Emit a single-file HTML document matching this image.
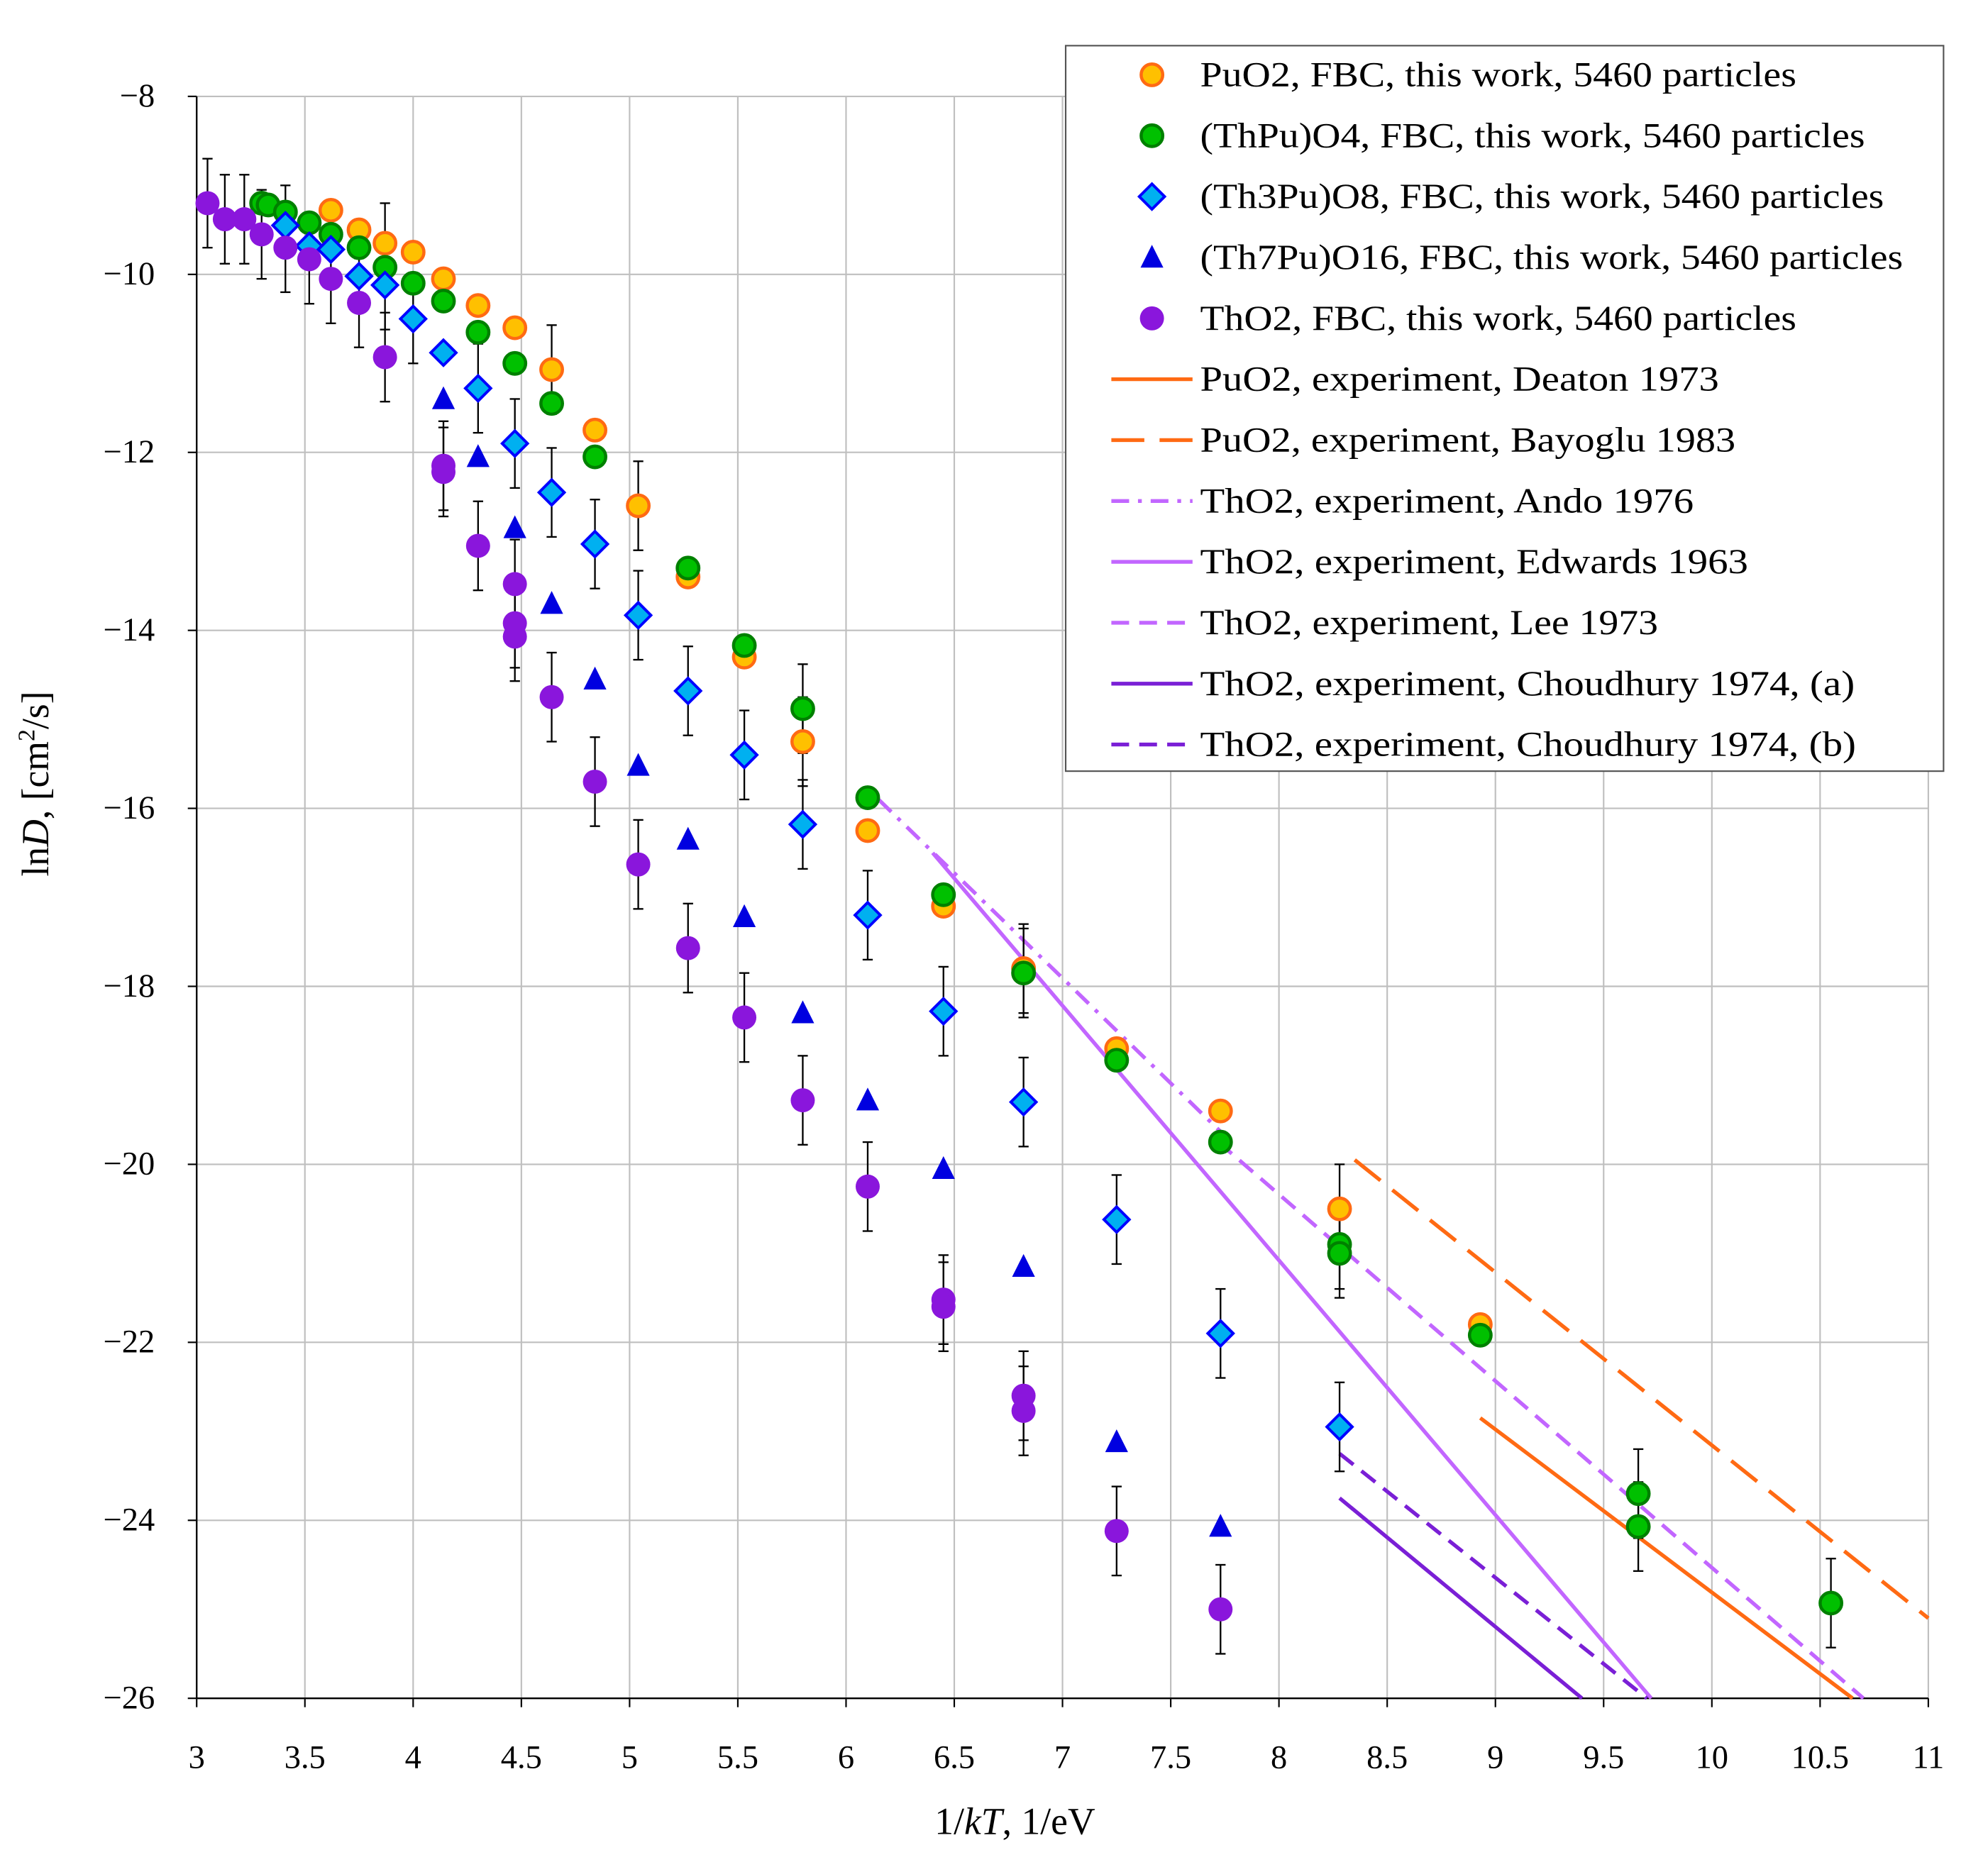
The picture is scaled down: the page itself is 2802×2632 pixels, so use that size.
<!DOCTYPE html>
<html><head><meta charset="utf-8"><style>
html,body{margin:0;padding:0;background:#fff;}
svg{display:block;font-family:"Liberation Serif",serif;}
</style></head><body>
<svg id="chart" width="2802" height="2632" viewBox="0 0 1567 1472" xmlns="http://www.w3.org/2000/svg"></svg>
<script>
const xTicks=[3,3.5,4,4.5,5,5.5,6,6.5,7,7.5,8,8.5,9,9.5,10,10.5,11];
const xTickLabels=["3","3.5","4","4.5","5","5.5","6","6.5","7","7.5","8","8.5","9","9.5","10","10.5","11"];
const yTicks=[-8,-10,-12,-14,-16,-18,-20,-22,-24,-26];
const yTickLabels=["\u22128","\u221210","\u221212","\u221214","\u221216","\u221218","\u221220","\u221222","\u221224","\u221226"];

const puX=[3.62,3.75,3.87,4.0,4.14,4.3,4.47,4.64,4.84,5.04,5.27,5.53,5.8,6.1,6.45,6.82,7.25,7.73,8.28,8.93];
const puY=[-9.28,-9.5,-9.65,-9.75,-10.05,-10.35,-10.6,-11.07,-11.75,-12.6,-13.4,-14.3,-15.25,-16.25,-17.1,-17.8,-18.7,-19.4,-20.5,-21.8];
const puE=[0,0,0.45,0,0,0,0,0.5,0,0.5,0,0,0.5,0,0,0.5,0,0,0.5,0];

const thpuX=[3.3,3.33,3.41,3.52,3.62,3.75,3.87,4.0,4.14,4.3,4.47,4.64,4.84,5.27,5.53,5.8,6.1,6.45,6.82,7.25,7.73,8.28,8.28,8.93,9.66,9.66,10.55];
const thpuY=[-9.2,-9.22,-9.3,-9.42,-9.55,-9.7,-9.92,-10.1,-10.3,-10.65,-11.0,-11.45,-12.05,-13.3,-14.17,-14.88,-15.88,-16.97,-17.85,-18.83,-19.75,-20.9,-21.0,-21.92,-23.7,-24.07,-24.93];
const thpuE=[0,0,0.3,0,0,0,0,0,0,0,0,0,0,0,0,0.5,0,0,0.5,0,0,0.5,0.5,0,0.5,0.5,0.5];

const th3X=[3.41,3.52,3.62,3.75,3.87,4.0,4.14,4.3,4.47,4.64,4.84,5.04,5.27,5.53,5.8,6.1,6.45,6.82,7.25,7.73,8.28];
const th3Y=[-9.45,-9.68,-9.72,-10.02,-10.12,-10.5,-10.88,-11.28,-11.9,-12.45,-13.03,-13.83,-14.68,-15.4,-16.18,-17.2,-18.28,-19.3,-20.62,-21.9,-22.95];
const th3E=[0,0,0,0,0.5,0.5,0,0.5,0.5,0.5,0.5,0.5,0.5,0.5,0.5,0.5,0.5,0.5,0.5,0.5,0.5];

const th7X=[4.14,4.3,4.47,4.64,4.84,5.04,5.27,5.53,5.8,6.1,6.45,6.82,7.25,7.73];
const th7Y=[-11.4,-12.05,-12.85,-13.7,-14.55,-15.52,-16.35,-17.22,-18.3,-19.28,-20.05,-21.15,-23.12,-24.07];

const thX=[3.05,3.13,3.22,3.3,3.41,3.52,3.62,3.75,3.87,4.14,4.14,4.3,4.47,4.47,4.47,4.64,4.84,5.04,5.27,5.53,5.8,6.1,6.45,6.45,6.82,6.82,7.25,7.73];
const thY=[-9.2,-9.38,-9.38,-9.55,-9.7,-9.83,-10.05,-10.32,-10.93,-12.15,-12.22,-13.05,-13.48,-13.92,-14.07,-14.75,-15.7,-16.63,-17.57,-18.35,-19.28,-20.25,-21.52,-21.6,-22.6,-22.77,-24.12,-25.0];
const thE=[0.5,0.5,0.5,0.5,0.5,0.5,0.5,0.5,0.5,0.5,0.5,0.5,0.5,0.5,0.5,0.5,0.5,0.5,0.5,0.5,0.5,0.5,0.5,0.5,0.5,0.5,0.5,0.5];

const deatonX=[8.93,10.65], deatonY=[-22.85,-26];
const bayogluX=[8.35,11], bayogluY=[-19.95,-25.1];
const andoX=[6.15,7.78], andoY=[-15.9,-19.75];
const edwardsX=[6.4,9.72], edwardsY=[-16.5,-26];
const leeX=[7.72,10.7], leeY=[-19.75,-26];
const choudAX=[8.28,9.4], choudAY=[-23.75,-26];
const choudBX=[8.28,9.7], choudBY=[-23.25,-26];

const X0=155,X1=1520,Y0=76,Y1=1339;
const sx=v=>X0+(v-3)/(11-3)*(X1-X0);
const sy=v=>Y0+(v-(-8))/(-26-(-8))*(Y1-Y0);
const NS="http://www.w3.org/2000/svg";
const svg=document.getElementById('chart');
function el(tag,attrs,parent){const e=document.createElementNS(NS,tag);for(const k in attrs)e.setAttribute(k,attrs[k]);(parent||svg).appendChild(e);return e;}

const grid=el('g',{});


xTicks.forEach((t,i)=>{
  el('line',{x1:sx(t),x2:sx(t),y1:Y0,y2:Y1,stroke:'#bfbfbf','stroke-width':1.2},grid);
  el('line',{x1:sx(t),x2:sx(t),y1:Y1,y2:Y1+7,stroke:'#000','stroke-width':1.2},grid);
  const tx=el('text',{x:sx(t),y:1394,'text-anchor':'middle','font-size':26},grid);
  tx.textContent=xTickLabels[i];
  
  
});
yTicks.forEach((t,i)=>{
  el('line',{x1:X0,x2:X1,y1:sy(t),y2:sy(t),stroke:'#bfbfbf','stroke-width':1.2},grid);
  el('line',{x1:X0-7,x2:X0,y1:sy(t),y2:sy(t),stroke:'#000','stroke-width':1.2},grid);
  const tx=el('text',{x:122,y:sy(t)+8,'text-anchor':'end','font-size':26},grid);
  tx.textContent=yTickLabels[i];
  
  
});
el('line',{x1:X0,x2:X0,y1:Y0,y2:Y1,stroke:'#000','stroke-width':1.3});
el('line',{x1:X0,x2:X1,y1:Y1,y2:Y1,stroke:'#000','stroke-width':1.3});

function drawLine(xs,ys,color,dash,name){
  const l=el('line',{x1:sx(xs[0]),y1:sy(ys[0]),x2:sx(xs[1]),y2:sy(ys[1]),stroke:color,'stroke-width':3,'stroke-dasharray':dash||'none'});
  
  
}
drawLine(deatonX,deatonY,'#ff6a13','', 'deaton-line');
drawLine(bayogluX,bayogluY,'#ff6a13','26 12','bayoglu-line');
drawLine(andoX,andoY,'#c266ff','14 7 3 7','ando-line');
drawLine(edwardsX,edwardsY,'#c266ff','','edwards-line');
drawLine(leeX,leeY,'#c266ff','14 8','lee-line');
drawLine(choudAX,choudAY,'#7a1fd6','','choudhury-a-line');
drawLine(choudBX,choudBY,'#7a1fd6','14 8','choudhury-b-line');

function errs(xs,ys,es){
  const g=el('g',{stroke:'#000','stroke-width':1.3});
  
  
  xs.forEach((x,i)=>{if(!es[i])return;
    const cx=sx(x),t=sy(ys[i]+es[i]),b=sy(ys[i]-es[i]);
    el('line',{x1:cx,x2:cx,y1:t,y2:b},g);
    el('line',{x1:cx-4,x2:cx+4,y1:t,y2:t},g);
    el('line',{x1:cx-4,x2:cx+4,y1:b,y2:b},g);
  });
}
function marker(g,type,cx,cy,fill,stroke){
  if(type==='circle')return el('circle',{cx,cy,r:stroke?8.5:9.5,fill,stroke:stroke||'none','stroke-width':2.5},g);
  if(type==='diamond')return el('polygon',{points:`${cx},${cy-10} ${cx+10},${cy} ${cx},${cy+10} ${cx-10},${cy}`,fill,stroke,'stroke-width':2.2},g);
  if(type==='tri')return el('polygon',{points:`${cx},${cy-10} ${cx+9},${cy+8} ${cx-9},${cy+8}`,fill},g);
}
function series(xs,ys,type,fill,stroke,name){
  const g=el('g',{});
  
  
  xs.forEach((x,i)=>{const m=marker(g,type,sx(x),sy(ys[i]),fill,stroke);
    
    });
}
errs(puX,puY,puE);errs(thpuX,thpuY,thpuE);errs(th3X,th3Y,th3E);errs(thX,thY,thE);
series(puX,puY,'circle','#ffc000','#ff6a13','puo2-series');
series(thpuX,thpuY,'circle','#00c000','#008000','thpuo4-series');
series(th3X,th3Y,'diamond','#00b0f0','#0000ff','th3puo8-series');
series(th7X,th7Y,'tri','#0000e0',null,'th7puo16-series');
series(thX,thY,'circle','#8a16dc',null,'tho2-series');

// legend
const lg=el('g',{});


el('rect',{x:840,y:36,width:692,height:572,fill:'#fff',stroke:'#555','stroke-width':1.2},lg);
const entries=[
 ['circle','#ffc000','#ff6a13','','PuO2, FBC, this work, 5460 particles',470],
 ['circle','#00c000','#008000','','(ThPu)O4, FBC, this work, 5460 particles',524],
 ['diamond','#00b0f0','#0000ff','','(Th3Pu)O8, FBC, this work, 5460 particles',539],
 ['tri','#0000e0',null,'','(Th7Pu)O16, FBC, this work, 5460 particles',554],
 ['circle','#8a16dc',null,'','ThO2, FBC, this work, 5460 particles',470],
 ['line','#ff6a13','', 'none','PuO2, experiment, Deaton 1973',409],
 ['line','#ff6a13','', '26 12','PuO2, experiment, Bayoglu 1983',422],
 ['line','#c266ff','', '14 7 3 7','ThO2, experiment, Ando 1976',389],
 ['line','#c266ff','', 'none','ThO2, experiment, Edwards 1963',432],
 ['line','#c266ff','', '14 8','ThO2, experiment, Lee 1973',361],
 ['line','#7a1fd6','', 'none','ThO2, experiment, Choudhury 1974, (a)',516],
 ['line','#7a1fd6','', '14 8','ThO2, experiment, Choudhury 1974, (b)',517]
];
entries.forEach((e,i)=>{
  const y=59+i*48;
  const g=el('g',{},lg);
  
  
  if(e[0]==='line') el('line',{x1:876,x2:940,y1:y,y2:y,stroke:e[1],'stroke-width':3,'stroke-dasharray':e[3]},g);
  else marker(g,e[0],908,y,e[1],e[2]);
  const t=el('text',{x:946,y:y+9,'font-size':28,textLength:e[5],lengthAdjust:'spacingAndGlyphs'},g);
  t.textContent=e[4];
});

const xl=el('text',{x:800,y:1446,'text-anchor':'middle','font-size':30});


xl.innerHTML='1/<tspan font-style="italic">kT</tspan>, 1/eV';
const yl=el('text',{x:0,y:0,'text-anchor':'middle','font-size':30,transform:'translate(38,618) rotate(-90)'});


yl.innerHTML='ln<tspan font-style="italic">D</tspan>, [cm<tspan font-size="19" dy="-11">2</tspan><tspan dy="11">/s]</tspan>';
</script>
</body></html>
